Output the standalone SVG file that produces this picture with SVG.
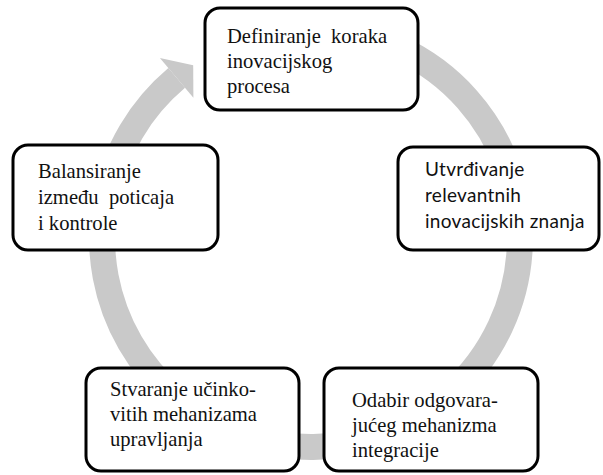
<svg xmlns="http://www.w3.org/2000/svg" width="603" height="475" viewBox="0 0 603 475">
<style>
.ring{fill:none;stroke:#c9c9c9;stroke-width:26}
.head{fill:#c9c9c9}
.box{fill:#fff;stroke:#000;stroke-width:3}
.t{font-family:"Liberation Serif","Times New Roman",serif;font-size:20.6px;fill:#111}
.c{font-family:Lato,"Liberation Sans",sans-serif;font-size:19px;letter-spacing:0.3px;fill:#111}
</style>
<rect width="603" height="475" fill="#fff"/>
<g id="connectors">
<path class="ring" d="M239.5 41.6 A209 209 0 0 1 382.5 434.4 A209 209 0 0 1 176.7 77.9"/>
<polygon class="head" points="159.9,58 193.2,65.3 193.4,97.8"/>
</g>
<g id="n1">
<rect class="box" x="205" y="8" width="213" height="102" rx="15"/>
<text class="t" x="227" y="43" xml:space="preserve">Definiranje  koraka</text>
<text class="t" x="227" y="68">inovacijskog</text>
<text class="t" x="227" y="93">procesa</text>
</g>
<g id="n2">
<rect class="box" x="398" y="147" width="201" height="103" rx="15"/>
<text class="c" x="425" y="176">Utvrđivanje</text>
<text class="c" x="425" y="202">relevantnih</text>
<text class="c" x="425" y="228">inovacijskih znanja</text>
</g>
<g id="n3">
<rect class="box" x="13" y="145" width="205" height="105" rx="15"/>
<text class="t" x="38" y="178">Balansiranje</text>
<text class="t" x="38" y="204" xml:space="preserve">između  poticaja</text>
<text class="t" x="38" y="230">i kontrole</text>
</g>
<g id="n4">
<rect class="box" x="86" y="368" width="213" height="103" rx="15"/>
<text class="t" x="110" y="396">Stvaranje učinko-</text>
<text class="t" x="110" y="421">vitih mehanizama</text>
<text class="t" x="110" y="446">upravljanja</text>
</g>
<g id="n5">
<rect class="box" x="324" y="368" width="214" height="103" rx="15"/>
<text class="t" x="352" y="407">Odabir odgovara-</text>
<text class="t" x="352" y="432">jućeg mehanizma</text>
<text class="t" x="352" y="457">integracije</text>
</g>
</svg>
